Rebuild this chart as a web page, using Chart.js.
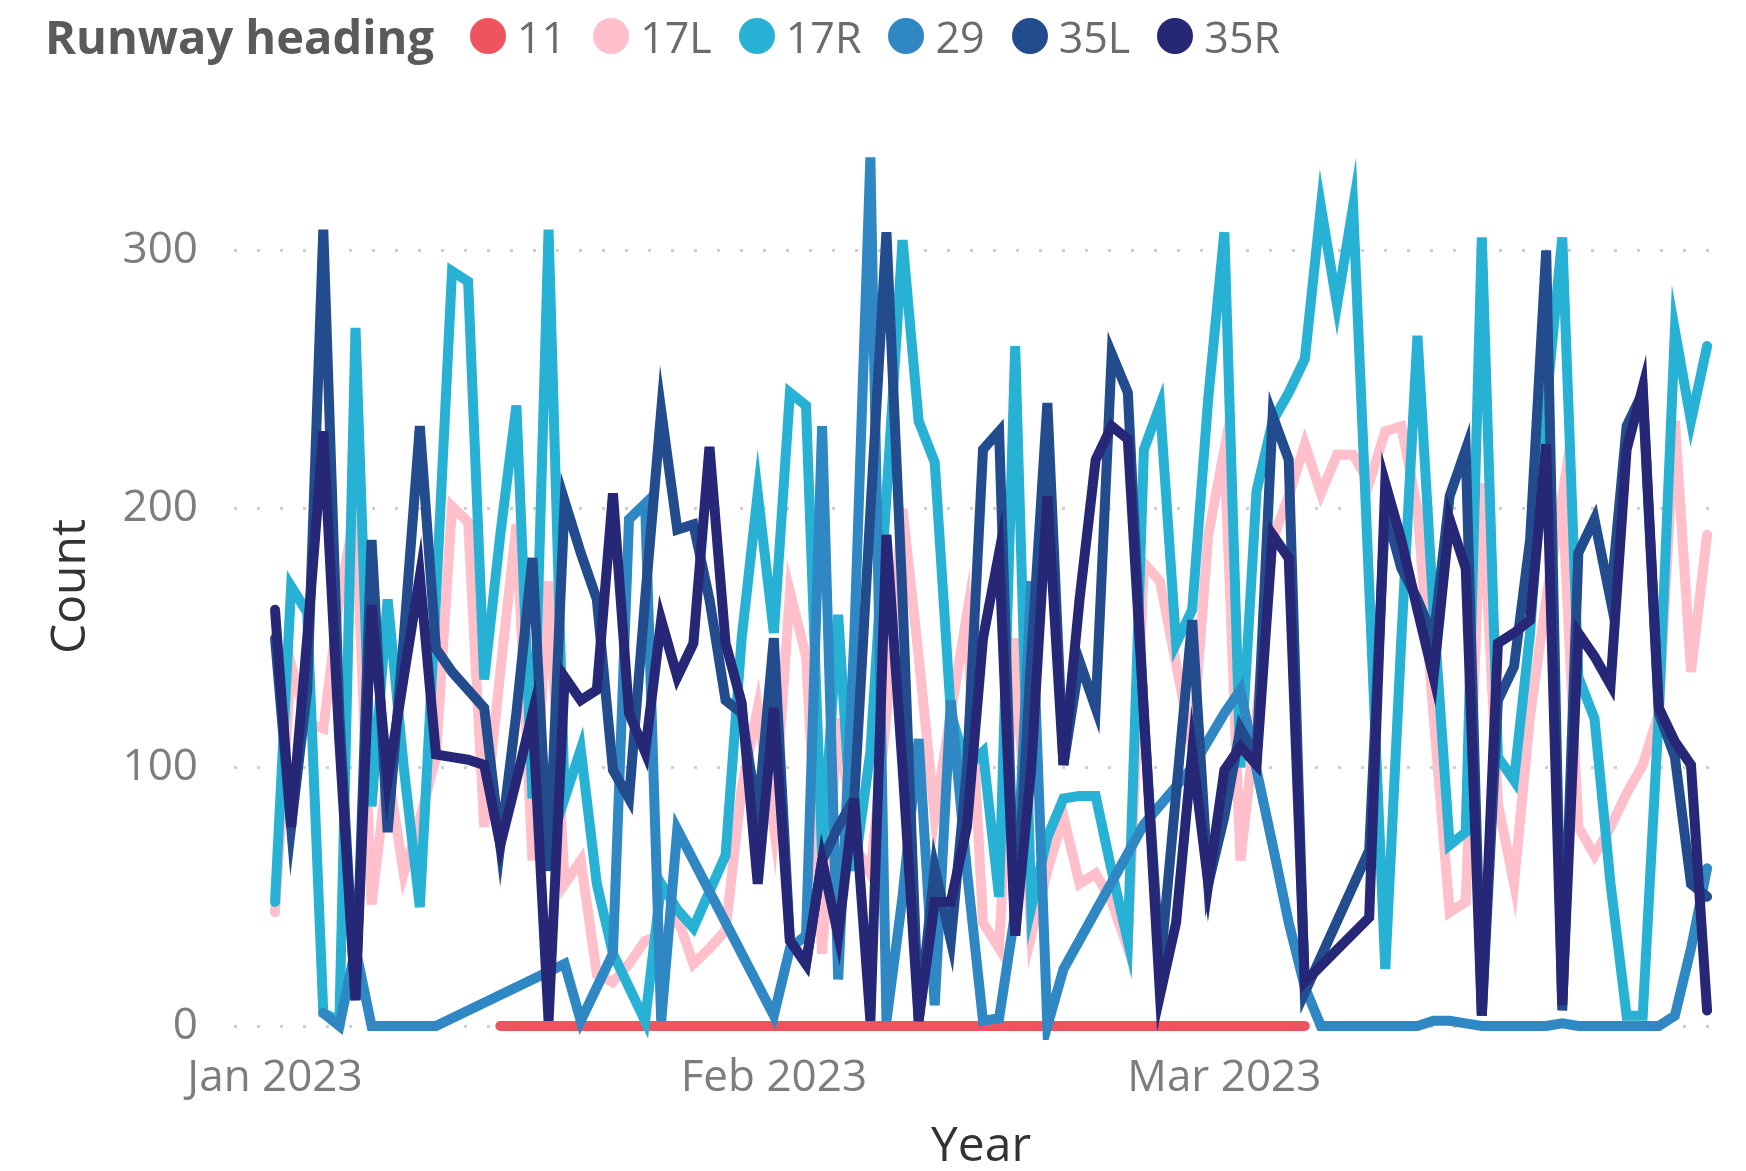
<!DOCTYPE html>
<html>
<head>
<meta charset="utf-8">
<script src="https://cdn.jsdelivr.net/npm/chart.js@4.4.0/dist/chart.umd.min.js"></script>
<style>
  html, body { margin: 0; padding: 0; background: #fff; overflow: hidden; }
  #wrap { position: relative; width: 1746px; height: 1171px; }
  #legend {
    position: absolute; left: 45px; top: 6px; height: 60px;
    display: flex; align-items: center;
    font-family: "Open Sans", "Noto Sans", sans-serif; font-size: 43px; color: #6b6b6b;
  }
  #legend .title { font-weight: bold; font-size: 47px; color: #5a5a5a; margin-right: 36px; }
  #legend .item { display: flex; align-items: center; margin-right: 27px; }
  #legend .dot { width: 36px; height: 36px; border-radius: 50%; margin-right: 11px; }
</style>
</head>
<body>
<div id="wrap">
  <canvas id="myChart" width="1746" height="1171"></canvas>
  <div id="legend"></div>
</div>
<script>
// Series (runway headings), one value per day from 1 Jan 2023 (index 0) to 31 Mar 2023 (index 89)
const categories = ['11', '17L', '17R', '29', '35L', '35R'];
const legendTitle = 'Runway heading';
const tickDays = [0, 31, 59];
const tickLabels = ['Jan 2023', 'Feb 2023', 'Mar 2023'];
const yTicks = [0, 100, 200, 300];

const s11 = [
  null, null, null, null, null, null, null, null, null, null,
  null, null, null, null, 0, 0, 0, 0, 0, 0,
  0, 0, 0, 0, 0, 0, 0, 0, 0, 0,
  0, 0, 0, 0, 0, 0, 0, 0, 0, 0,
  0, 0, 0, 0, 0, 0, 0, 0, 0, 0,
  0, 0, 0, 0, 0, 0, 0, 0, 0, 0,
  0, 0, 0, 0, 0, null, null, null, null, null,
  null, null, null, null, null, null, null, null, null, null,
  null, null, null, null, null, null, null, null, null, null
];
const s17L = [
  44, 140, 117, 115, 165, 200, 47, 99, 59, 80,
  104, 201, 195, 77, 137, 194, 64, 172, 55, 64,
  20, 17, 24, 33, 35, 42, 24, 30, 37, 92,
  123, 77, 168, 143, 28, 119, 70, 59, 120, 200,
  143, 81, 121, 159, 40, 30, 150, 35, 60, 81,
  55, 59, 48, 30, 179, 172, 140, 108, 190, 223,
  64, 120, 188, 205, 225, 206, 221, 221, 210, 230,
  232, 200, 120, 44, 48, 210, 86, 55, 120, 165,
  205, 77, 66, 77, 90, 101, 121, 234, 137, 190
];
const s17R = [
  48, 170, 160, 5, 2, 270, 85, 165, 100, 46,
  165, 292, 288, 134, 190, 240, 88, 308, 88, 107,
  55, 28, 15, 2, 55, 45, 38, 52, 66, 150,
  206, 152, 245, 240, 66, 159, 60, 106, 205, 304,
  234, 218, 121, 100, 106, 50, 263, 46, 73, 88,
  89, 89, 60, 33, 223, 240, 148, 161, 243, 307,
  100, 207, 234, 245, 258, 317, 279, 317, 170, 22,
  150, 267, 160, 70, 75, 305, 104, 95, 152, 240,
  305, 135, 119, 55, 4, 4, 121, 269, 234, 263
];
const s29 = [
  null, null, null, 5, 0, 30, 0, 0, 0, 0,
  0, null, null, null, null, null, null, null, 24, 2,
  15, 28, 196, 202, 2, 76, null, null, null, null,
  null, 4, 30, 35, 232, 18, 150, 336, 2, 50,
  111, 8, 126, 60, 2, 3, 44, 172, 0, 22,
  null, null, null, null, 78, null, null, 100, null, 121,
  130, 99, 70, 40, 15, 0, 0, 0, 0, 0,
  0, 0, 2, 2, 1, 0, 0, 0, 0, 0,
  1, 0, 0, 0, 0, 0, 0, 4, 30, 61
];
const s35L = [
  150, 77, 130, 308, 120, 10, 188, 75, 150, 232,
  146, 137, 130, 123, 70, 121, 181, 60, 203, 183,
  165, 99, 88, 165, 238, 192, 194, 165, 126, 121,
  81, 150, 33, 24, 64, 77, 88, 199, 307, 165,
  2, 61, 33, 99, 223, 230, 35, 143, 241, 101,
  141, 123, 260, 245, 120, 22, 90, 157, 55, 81,
  115, 104, 236, 219, 13, null, null, null, 68, 200,
  177, 165, 150, 205, 223, 4, 126, 139, 188, 300,
  6, 183, 196, 165, 232, 245, 121, 104, 55, 50
];
const s35R = [
  161, 77, 150, 230, 110, 10, 163, 95, 135, 174,
  105, 104, 103, 101, 70, 95, 121, 2, 135, 126,
  130, 206, 121, 106, 157, 135, 148, 224, 148, 125,
  55, 123, 33, 24, 64, 35, 88, 2, 190, 100,
  2, 48, 48, 77, 150, 183, 35, 100, 205, 101,
  165, 219, 232, 227, 121, 12, 40, 106, 55, 99,
  108, 101, 190, 181, 17, null, null, null, 42, 210,
  188, 161, 135, 196, 177, 4, 148, 152, 157, 225,
  8, 152, 143, 132, 223, 247, 123, 110, 101, 6
];

const seriesValues = [s11, s17L, s17R, s29, s35L, s35R];
const seriesColors = ['#ED545E', '#FFC0CB', '#27B1D5', '#2F88C4', '#234C8F', '#262877'];

const fontFamily = '"Open Sans", "Noto Sans", sans-serif';

function toPoints(values) {
  return values.map((v, i) => ({ x: i, y: v }));
}

function createChart() {
  const ctx = document.getElementById('myChart').getContext('2d');
  const datasets = categories.map((name, i) => ({
    label: name,
    data: toPoints(seriesValues[i]),
    borderColor: seriesColors[i],
    backgroundColor: seriesColors[i],
    borderWidth: 10,
    pointRadius: 0,
    tension: 0,
    spanGaps: true,
    borderCapStyle: 'round',
    clip: 14,
    order: categories.length - 1 - i // last heading drawn on top
  }));

  new Chart(ctx, {
    type: 'line',
    data: { datasets },
    options: {
      responsive: false,
      animation: false,
      layout: { padding: { top: 147, right: 18, left: 0, bottom: 0 } },
      plugins: {
        legend: { display: false },
        tooltip: { enabled: false }
      },
      scales: {
        x: {
          type: 'linear',
          min: -2.55,
          max: 90.3,
          grid: { display: false },
          border: { display: false },
          afterBuildTicks: (scale) => { scale.ticks = tickDays.map(v => ({ value: v })); },
          afterFit: (scale) => { scale.height = 1171 - 1026; },
          ticks: {
            autoSkip: false,
            maxRotation: 0,
            padding: 18,
            color: '#7d7d7d',
            font: { family: fontFamily, size: 44 },
            callback: (value) => tickLabels[tickDays.indexOf(value)]
          },
          title: {
            display: true,
            text: 'Year',
            color: '#333',
            padding: { top: 0, bottom: 0 },
            font: { family: fontFamily, size: 48, lineHeight: 1 }
          }
        },
        y: {
          min: 0,
          max: 340,
          grid: {
            drawTicks: false,
            color: '#cfcfcf',
            lineWidth: 3
          },
          border: { display: false, dash: [3, 20] },
          afterBuildTicks: (scale) => { scale.ticks = yTicks.map(v => ({ value: v })); },
          afterFit: (scale) => { scale.width = 234; },
          ticks: {
            padding: 36,
            color: '#7d7d7d',
            font: { family: fontFamily, size: 44 }
          },
          title: {
            display: true,
            text: 'Count',
            color: '#333',
            padding: { top: 43, bottom: 0 },
            font: { family: fontFamily, size: 48 }
          }
        }
      }
    }
  });
}

function cargarLeyenda() {
  const legend = document.getElementById('legend');
  const title = document.createElement('span');
  title.className = 'title';
  title.innerText = legendTitle;
  legend.appendChild(title);
  categories.forEach((name, i) => {
    const item = document.createElement('span');
    item.className = 'item';
    item.innerHTML = `<span class="dot" style="background:${seriesColors[i]}"></span><span>${name}</span>`;
    legend.appendChild(item);
  });
}

document.addEventListener('DOMContentLoaded', () => {
  createChart();
  cargarLeyenda();
});
</script>
</body>
</html>
